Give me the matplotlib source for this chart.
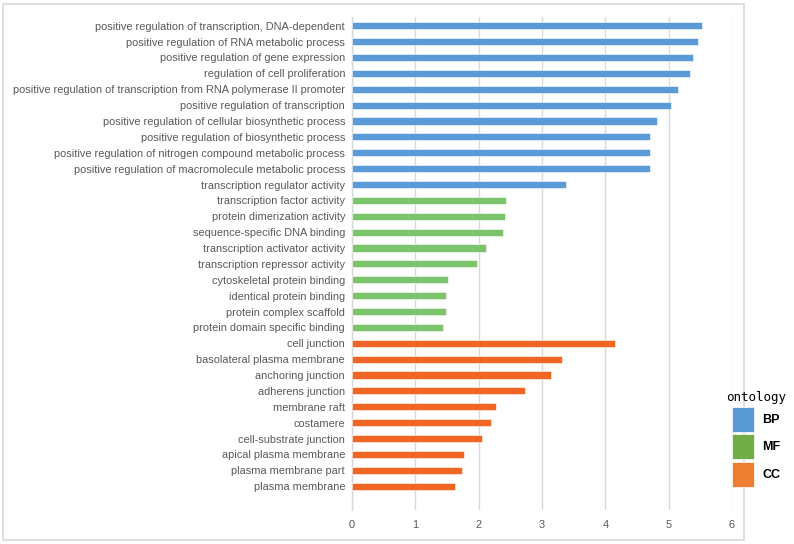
import numpy as np
import matplotlib.pyplot as plt
from matplotlib.patches import Patch, Rectangle

bp_terms = ["positive regulation of transcription, DNA-dependent",
            "positive regulation of RNA metabolic process",
            "positive regulation of gene expression",
            "regulation of cell proliferation",
            "positive regulation of transcription from RNA polymerase II promoter",
            "positive regulation of transcription",
            "positive regulation of cellular biosynthetic process",
            "positive regulation of biosynthetic process",
            "positive regulation of nitrogen compound metabolic process",
            "positive regulation of macromolecule metabolic process",
            "transcription regulator activity"]
bp_vals = [5.52, 5.47, 5.38, 5.34, 5.15, 5.04, 4.82, 4.71, 4.71, 4.71, 3.38]

mf_terms = ["transcription factor activity",
            "protein dimerization activity",
            "sequence-specific DNA binding",
            "transcription activator activity",
            "transcription repressor activity",
            "cytoskeletal protein binding",
            "identical protein binding",
            "protein complex scaffold",
            "protein domain specific binding"]
mf_vals = [2.43, 2.42, 2.38, 2.12, 1.97, 1.51, 1.49, 1.49, 1.43]

cc_terms = ["cell junction",
            "basolateral plasma membrane",
            "anchoring junction",
            "adherens junction",
            "membrane raft",
            "costamere",
            "cell-substrate junction",
            "apical plasma membrane",
            "plasma membrane part",
            "plasma membrane"]
cc_vals = [4.16, 3.31, 3.14, 2.73, 2.27, 2.20, 2.06, 1.77, 1.73, 1.63]

groups = ["BP", "MF", "CC"]
bar_cols = {"BP": "#5a9ad6", "MF": "#7bc46c", "CC": "#f26522"}
leg_cols = {"BP": "#5b9bd5", "MF": "#70ad47", "CC": "#ed7d31"}

terms = bp_terms + mf_terms + cc_terms
vals = bp_vals + mf_vals + cc_vals
cols = [bar_cols["BP"]] * len(bp_terms) + [bar_cols["MF"]] * len(mf_terms) + [bar_cols["CC"]] * len(cc_terms)

plt.rcParams['font.family'] = ['Liberation Sans', 'DejaVu Sans']

fig = plt.figure(figsize=(7.94, 5.44), dpi=100)
ax = fig.add_axes([352/794, 1 - 510/544, 380/794, 493/544])

y = np.arange(len(terms))
ax.barh(y, vals, height=0.45, color=cols, edgecolor='white', linewidth=0.4, zorder=3)

ax.set_xlim(0, 6)
ax.set_ylim(30.5, -0.55)
ax.set_xticks(range(7))
ax.set_yticks(y)
ax.set_yticklabels(terms)
ax.tick_params(axis='y', length=0, pad=5, labelsize=7.95, labelcolor='#595959')
ax.tick_params(axis='x', length=0, pad=7, labelsize=7.95, labelcolor='#595959')
ax.grid(axis='x', color='#d9d9d9', linewidth=1, zorder=0)
for s in ['top', 'right', 'bottom']:
    ax.spines[s].set_visible(False)
ax.spines['left'].set_color('#d9d9d9')
ax.spines['left'].set_linewidth(1)

# outer chart frame
fig.add_artist(Rectangle((3/794, 1 - 540/544), 741/794, 536/544, transform=fig.transFigure,
                         fill=False, edgecolor='#d9d9d9', linewidth=1.2))

handles = [Patch(facecolor=leg_cols[g], edgecolor='white', linewidth=0.5) for g in groups]
leg = fig.legend(handles, groups, loc='upper left', bbox_to_anchor=(726/794, 1 - 391/544),
                 frameon=False, title='ontology', handlelength=1.8, handleheight=2.7,
                 labelspacing=0.2, handletextpad=0.62, borderaxespad=0, borderpad=0,
                 prop={'family': 'Liberation Sans', 'weight': 'bold', 'size': 9},
                 title_fontproperties={'family': 'DejaVu Sans Mono', 'size': 9})

fig.savefig('out.png', dpi=100)
